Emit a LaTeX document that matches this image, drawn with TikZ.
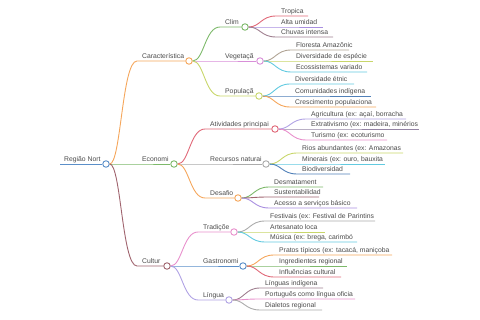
\documentclass[tikz,border=0pt]{standalone}
\usepackage{fontspec}
\setmainfont{Liberation Sans}
\definecolor{txt}{HTML}{4A4A4A}
\definecolor{cblue}{HTML}{5B8FC9}
\definecolor{corange}{HTML}{F5A65B}
\definecolor{cgreen}{HTML}{7DB96A}
\definecolor{cmaroon}{HTML}{A0646E}
\definecolor{cviolet}{HTML}{D88FD8}
\definecolor{cyg}{HTML}{C8D66A}
\definecolor{cred}{HTML}{E06878}
\definecolor{cpurple}{HTML}{A98FE0}
\definecolor{cmauve}{HTML}{A08090}
\definecolor{cgreybr}{HTML}{B0A394}
\definecolor{ccyan}{HTML}{62CAE0}
\definecolor{cdblue}{HTML}{5080B8}
\definecolor{cgrey}{HTML}{ABABAB}
\definecolor{clav}{HTML}{B0A2E4}
\definecolor{cgpurple}{HTML}{9484A4}
\definecolor{cpink}{HTML}{E890CC}
\newcommand{\mmbranch}[7]{%
  \coordinate (#2s) at (#3,#4);
  \node[dot,draw=#6] (#2) at (#5,#4) {};
  \draw[br,#6] (#1) .. controls +(15,0) and +(-15,0) .. (#2s) -- (#2);
  \node[lbl] (#2t) at ([xshift=5pt,yshift=2pt]#2s) {#7};}
\newcommand{\mmleaf}[7]{%
  \coordinate (#2s) at (#3,#4);
  \coordinate (#2e) at (#5,#4);
  \draw[br,#6] (#1) .. controls +(15,0) and +(-15,0) .. (#2s) -- (#2e);
  \node[lbl] (#2t) at ([xshift=5pt,yshift=2pt]#2s) {#7};}
\begin{document}
\begin{tikzpicture}[x=1pt,y=-1pt,
  lbl/.style={anchor=base west,inner sep=0pt,text=txt,font=\fontsize{6.8}{8}\selectfont},
  dot/.style={circle,fill=white,minimum size=6.5pt,inner sep=0pt,line width=0.9pt},
  br/.style={line width=0.9pt}]
\useasboundingbox (0,0) rectangle (480,320);
% root
\coordinate (roots) at (60,164);
\node[dot,draw=cblue] (root) at (106,164) {};
\draw[br,cblue] (roots) -- (root);
\node[lbl] (roott) at ([xshift=4pt,yshift=2pt]roots) {Região Nort};
% level 1
\mmbranch{root}{car}{137}{61}{189}{corange}{Característica}
\mmbranch{root}{eco}{137}{164}{174}{cgreen}{Economi}
\mmbranch{root}{cul}{137}{266}{167}{cmaroon}{Cultur}
% level 2
\mmbranch{car}{cli}{220}{27}{245}{cgreen}{Clim}
\mmbranch{car}{veg}{220}{61}{260}{cviolet}{Vegetaçã}
\mmbranch{car}{pop}{220}{96}{259}{cyg}{Populaçã}
\mmbranch{eco}{ati}{205}{129}{275}{cred}{Atividades principai}
\mmbranch{eco}{rec}{205}{164}{266}{cgrey}{Recursos naturai}
\mmbranch{eco}{des}{205}{198}{238}{corange}{Desafio}
\mmbranch{cul}{tra}{198}{232}{234}{cpink}{Tradiçõe}
\mmbranch{cul}{gas}{198}{266}{243}{cblue}{Gastronomi}
\mmbranch{cul}{lin}{198}{300}{229}{clav}{Língua}
% leaves
\mmleaf{cli}{l1}{276}{16}{308}{cred}{Tropica}
\mmleaf{cli}{l2}{276}{27}{323}{cpurple}{Alta umidad}
\mmleaf{cli}{l3}{276}{37}{333}{cmauve}{Chuvas intensa}
\mmleaf{veg}{l4}{291}{50}{349}{cgreybr}{Floresta Amazônic}
\mmleaf{veg}{l5}{291}{61}{373}{cyg}{Diversidade de espécie}
\mmleaf{veg}{l6}{291}{72}{367}{ccyan}{Ecossistemas variado}
\mmleaf{pop}{l7}{290}{84}{354}{ccyan}{Diversidade étnic}
\mmleaf{pop}{l8}{290}{96}{371}{cdblue}{Comunidades indígena}
\mmleaf{pop}{l9}{290}{107}{376}{corange}{Crescimento populaciona}
\mmleaf{ati}{l10}{306}{119}{406}{clav}{Agricultura (ex: açaí, borracha}
\mmleaf{ati}{l11}{306}{129}{419}{cgpurple}{Extrativismo (ex: madeira, minérios}
\mmleaf{ati}{l12}{306}{140}{387}{cpink}{Turismo (ex: ecoturismo}
\mmleaf{rec}{l13}{297}{153}{403}{cyg}{Rios abundantes (ex: Amazonas}
\mmleaf{rec}{l14}{297}{164}{385}{ccyan}{Minerais (ex: ouro, bauxita}
\mmleaf{rec}{l15}{297}{174}{350}{cdblue}{Biodiversidad}
\mmleaf{des}{l16}{269}{187}{323}{cgreen}{Desmatament}
\mmleaf{des}{l17}{269}{197}{319}{cmaroon}{Sustentabilidad}
\mmleaf{des}{l18}{269}{208}{357}{cpurple}{Acesso a serviços básico}
\mmleaf{tra}{l19}{265}{221}{375}{cgrey}{Festivais (ex: Festival de Parintins}
\mmleaf{tra}{l20}{265}{232}{325}{cyg}{Artesanato loca}
\mmleaf{tra}{l21}{265}{242}{357}{ccyan}{Música (ex: brega, carimbó}
\mmleaf{gas}{l22}{274}{255}{392}{corange}{Pratos típicos (ex: tacacá, maniçoba}
\mmleaf{gas}{l23}{274}{266}{347}{cgreen}{Ingredientes regional}
\mmleaf{gas}{l24}{274}{277}{341}{cred}{Influências cultural}
\mmleaf{lin}{l25}{260}{288}{323}{cmauve}{Línguas indígena}
\mmleaf{lin}{l26}{260}{299}{355}{cpink}{Português como língua oficia}
\mmleaf{lin}{l27}{260}{310}{322}{cgrey}{Dialetos regional}
\end{tikzpicture}
\end{document}
